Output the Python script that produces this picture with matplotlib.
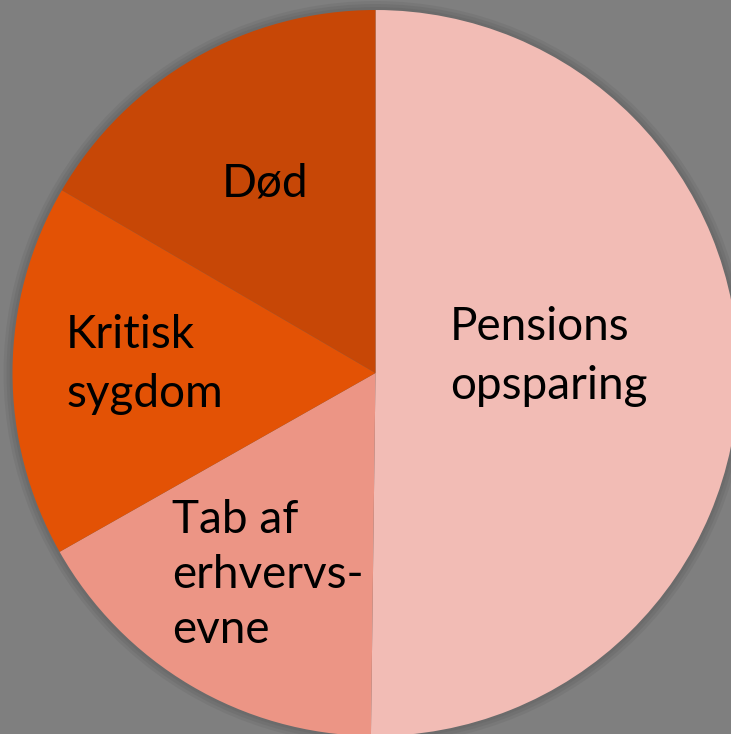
import matplotlib
matplotlib.use("Agg")
import matplotlib.pyplot as plt

# slice data (clockwise from 12 o'clock)
labels = ["Pensions\nopsparing", "Tab af\nerhvervs-\nevne", "Kritisk\nsygdom", "Død"]
shares = [50.2, 16.6, 16.6, 16.6]
colors = ["#F2BCB5", "#EC9585", "#E35205", "#C74706"]

W, H = 731, 734
fig = plt.figure(figsize=(W / 100, H / 100), dpi=100)
fig.patch.set_facecolor("#7F7F7F")
ax = fig.add_axes([0, 0, 1, 1])
ax.set_xlim(0, W)
ax.set_ylim(0, H)
ax.set_aspect("equal")
ax.axis("off")

cx, cy, r = 375.5, H - 373, 363

# soft shadow round the pie
for i, a in enumerate([0.05, 0.05, 0.05]):
    sh = plt.Circle((cx, cy), r + 3 + 3 * i, color="black", alpha=a, lw=0)
    ax.add_patch(sh)

wedges, _ = ax.pie(shares, colors=colors, startangle=90, counterclock=False,
                   center=(cx, cy), radius=r, frame=True,
                   wedgeprops=dict(linewidth=0))
ax.set_xlim(0, W)
ax.set_ylim(0, H)
ax.axis("off")

# label anchors: left x and first baseline (pixel coords from top)
lab_x = [450, 172, 66, 222]
lab_y = [340, 533, 348, 197]
line_gap = [59, 55, 59, 59]

for lab, x, y, g in zip(labels, lab_x, lab_y, line_gap):
    for k, line in enumerate(lab.split("\n")):
        ax.text(x, H - (y + k * g), line, ha="left", va="baseline",
                fontsize=33, family=["Lato", "DejaVu Sans"], color="black")

fig.savefig("out.png", dpi=100, facecolor=fig.get_facecolor())
